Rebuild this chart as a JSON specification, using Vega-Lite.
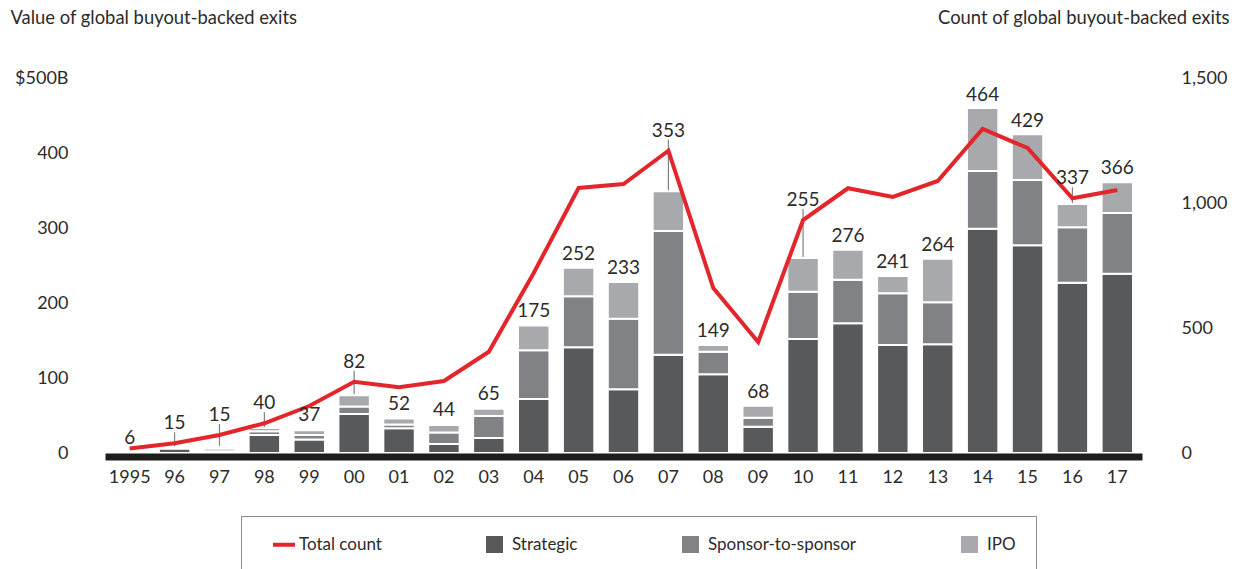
{
  "$schema": "https://vega.github.io/schema/vega-lite/v6.json",
  "width": 1037,
  "height": 375,
  "autosize": {"type": "none"},
  "padding": {"left": 105, "top": 78, "right": 97, "bottom": 116},
  "background": "white",
  "config": {"view": {"stroke": null}, "font": "Lato"},
  "datasets": {
    "segments": [
      {"year": "1995", "type": "Strategic", "value": 1}, {"year": "1995", "type": "Sponsor-to-sponsor", "value": 0.5}, {"year": "1995", "type": "IPO", "value": 0.5},
      {"year": "96", "type": "Strategic", "value": 6}, {"year": "96", "type": "Sponsor-to-sponsor", "value": 1}, {"year": "96", "type": "IPO", "value": 1},
      {"year": "97", "type": "Strategic", "value": 2.5}, {"year": "97", "type": "Sponsor-to-sponsor", "value": 3.5}, {"year": "97", "type": "IPO", "value": 2.5},
      {"year": "98", "type": "Strategic", "value": 24}, {"year": "98", "type": "Sponsor-to-sponsor", "value": 5}, {"year": "98", "type": "IPO", "value": 4.5},
      {"year": "99", "type": "Strategic", "value": 18}, {"year": "99", "type": "Sponsor-to-sponsor", "value": 6}, {"year": "99", "type": "IPO", "value": 6.5},
      {"year": "00", "type": "Strategic", "value": 52}, {"year": "00", "type": "Sponsor-to-sponsor", "value": 10}, {"year": "00", "type": "IPO", "value": 15},
      {"year": "01", "type": "Strategic", "value": 33}, {"year": "01", "type": "Sponsor-to-sponsor", "value": 5}, {"year": "01", "type": "IPO", "value": 8},
      {"year": "02", "type": "Strategic", "value": 12}, {"year": "02", "type": "Sponsor-to-sponsor", "value": 15.5}, {"year": "02", "type": "IPO", "value": 10},
      {"year": "03", "type": "Strategic", "value": 20}, {"year": "03", "type": "Sponsor-to-sponsor", "value": 29.5}, {"year": "03", "type": "IPO", "value": 9.5},
      {"year": "04", "type": "Strategic", "value": 72}, {"year": "04", "type": "Sponsor-to-sponsor", "value": 65}, {"year": "04", "type": "IPO", "value": 33},
      {"year": "05", "type": "Strategic", "value": 141}, {"year": "05", "type": "Sponsor-to-sponsor", "value": 68}, {"year": "05", "type": "IPO", "value": 38},
      {"year": "06", "type": "Strategic", "value": 85}, {"year": "06", "type": "Sponsor-to-sponsor", "value": 94}, {"year": "06", "type": "IPO", "value": 49},
      {"year": "07", "type": "Strategic", "value": 131}, {"year": "07", "type": "Sponsor-to-sponsor", "value": 165}, {"year": "07", "type": "IPO", "value": 53},
      {"year": "08", "type": "Strategic", "value": 105}, {"year": "08", "type": "Sponsor-to-sponsor", "value": 30}, {"year": "08", "type": "IPO", "value": 9},
      {"year": "09", "type": "Strategic", "value": 35}, {"year": "09", "type": "Sponsor-to-sponsor", "value": 12}, {"year": "09", "type": "IPO", "value": 16},
      {"year": "10", "type": "Strategic", "value": 152}, {"year": "10", "type": "Sponsor-to-sponsor", "value": 63}, {"year": "10", "type": "IPO", "value": 45},
      {"year": "11", "type": "Strategic", "value": 173}, {"year": "11", "type": "Sponsor-to-sponsor", "value": 58}, {"year": "11", "type": "IPO", "value": 40},
      {"year": "12", "type": "Strategic", "value": 144}, {"year": "12", "type": "Sponsor-to-sponsor", "value": 69}, {"year": "12", "type": "IPO", "value": 23},
      {"year": "13", "type": "Strategic", "value": 145}, {"year": "13", "type": "Sponsor-to-sponsor", "value": 56}, {"year": "13", "type": "IPO", "value": 58},
      {"year": "14", "type": "Strategic", "value": 299}, {"year": "14", "type": "Sponsor-to-sponsor", "value": 77}, {"year": "14", "type": "IPO", "value": 84},
      {"year": "15", "type": "Strategic", "value": 277}, {"year": "15", "type": "Sponsor-to-sponsor", "value": 87}, {"year": "15", "type": "IPO", "value": 61},
      {"year": "16", "type": "Strategic", "value": 227}, {"year": "16", "type": "Sponsor-to-sponsor", "value": 74}, {"year": "16", "type": "IPO", "value": 31},
      {"year": "17", "type": "Strategic", "value": 239}, {"year": "17", "type": "Sponsor-to-sponsor", "value": 81}, {"year": "17", "type": "IPO", "value": 41}
    ],
    "years": [
      {"year": "1995", "total": 6, "count": 18},
      {"year": "96", "total": 15, "count": 39},
      {"year": "97", "total": 15, "count": 72},
      {"year": "98", "total": 40, "count": 119},
      {"year": "99", "total": 37, "count": 188},
      {"year": "00", "total": 82, "count": 285},
      {"year": "01", "total": 52, "count": 263},
      {"year": "02", "total": 44, "count": 288},
      {"year": "03", "total": 65, "count": 405},
      {"year": "04", "total": 175, "count": 720},
      {"year": "05", "total": 252, "count": 1060},
      {"year": "06", "total": 233, "count": 1076},
      {"year": "07", "total": 353, "count": 1209},
      {"year": "08", "total": 149, "count": 660},
      {"year": "09", "total": 68, "count": 444},
      {"year": "10", "total": 255, "count": 932},
      {"year": "11", "total": 276, "count": 1059},
      {"year": "12", "total": 241, "count": 1024},
      {"year": "13", "total": 264, "count": 1088},
      {"year": "14", "total": 464, "count": 1296},
      {"year": "15", "total": 429, "count": 1220},
      {"year": "16", "total": 337, "count": 1019},
      {"year": "17", "total": 366, "count": 1052}
    ],
    "legend": [
      {"series": "Total count"},
      {"series": "Strategic"},
      {"series": "Sponsor-to-sponsor"},
      {"series": "IPO"}
    ]
  },
  "layer": [
    {
      "data": {"name": "years"},
      "transform": [{"filter": {"field": "year", "oneOf": ["96", "97", "98", "00", "07", "10", "16"]}}],
      "mark": {"type": "rule", "color": "#7f7f7f", "strokeWidth": 1.2, "yOffset": -11},
      "encoding": {
        "x": {
          "field": "year",
          "type": "nominal",
          "sort": null,
          "scale": {
            "domain": ["1995", "96", "97", "98", "99", "00", "01", "02", "03", "04", "05", "06", "07", "08", "09", "10", "11", "12", "13", "14", "15", "16", "17"],
            "paddingInner": 0.3,
            "paddingOuter": 0.2
          },
          "axis": {
            "title": null,
            "domainColor": "#1d1d1b",
            "domainWidth": 7,
            "offset": 3.5,
            "ticks": false,
            "labelPadding": 12,
            "labelFontSize": 18,
            "labelColor": "#2b2b2b",
            "labelAngle": 0,
            "zindex": 1
          }
        },
        "y": {"field": "count", "type": "quantitative", "scale": {"domain": [0, 1500], "nice": false}, "axis": null},
        "y2": {"datum": 0}
      }
    },
    {
      "data": {"name": "segments"},
      "mark": {"type": "bar", "stroke": "white", "strokeWidth": 2},
      "encoding": {
        "x": {"field": "year", "type": "nominal", "sort": null},
        "y": {
          "field": "value",
          "type": "quantitative",
          "stack": "zero",
          "scale": {"domain": [0, 500], "nice": false},
          "axis": {
            "orient": "left",
            "values": [0, 100, 200, 300, 400, 500],
            "labelExpr": "datum.value == 500 ? '$500B' : datum.label",
            "domain": false,
            "ticks": false,
            "grid": false,
            "labelPadding": 37,
            "labelFontSize": 18,
            "labelColor": "#2b2b2b",
            "title": "Value of global buyout-backed exits",
            "titleAngle": 0,
            "titleAlign": "left",
            "titleBaseline": "middle",
            "titleX": -95,
            "titleY": -61,
            "titleFontSize": 18.4,
            "titleFontWeight": "normal",
            "titleColor": "#2b2b2b"
          }
        },
        "fill": {
          "field": "type",
          "type": "nominal",
          "sort": ["Strategic", "Sponsor-to-sponsor", "IPO"],
          "scale": {
            "domain": ["Strategic", "Sponsor-to-sponsor", "IPO"],
            "range": ["#58595b", "#818285", "#a8a9ac"]
          },
          "legend": null
        }
      }
    },
    {
      "data": {"name": "years"},
      "mark": {"type": "line", "strokeWidth": 4, "color": "#e3262b"},
      "encoding": {
        "x": {"field": "year", "type": "nominal", "sort": null},
        "y": {
          "field": "count",
          "type": "quantitative",
          "scale": {"domain": [0, 1500], "nice": false},
          "axis": {
            "orient": "right",
            "values": [0, 500, 1000, 1500],
            "labelExpr": "format(datum.value, ',')",
            "domain": false,
            "ticks": false,
            "grid": false,
            "labelPadding": 39,
            "labelFontSize": 18,
            "labelColor": "#2b2b2b",
            "title": "Count of global buyout-backed exits",
            "titleAngle": 0,
            "titleAlign": "right",
            "titleBaseline": "middle",
            "titleX": 87,
            "titleY": -61,
            "titleFontSize": 18.4,
            "titleFontWeight": "normal",
            "titleColor": "#2b2b2b"
          }
        }
      }
    },
    {
      "data": {"name": "years"},
      "transform": [{"filter": {"not": {"field": "year", "oneOf": ["96", "97", "98", "00", "07", "10", "16"]}}}],
      "mark": {"type": "text", "baseline": "alphabetic", "dy": -4.5, "fontSize": 19, "color": "#2b2b2b"},
      "encoding": {
        "x": {"field": "year", "type": "nominal", "sort": null},
        "y": {"field": "total", "type": "quantitative", "scale": {"domain": [0, 500], "nice": false}, "axis": null},
        "text": {"field": "total", "type": "quantitative"}
      }
    },
    {
      "data": {"name": "years"},
      "transform": [{"filter": {"field": "year", "oneOf": ["96", "97", "98", "00", "07", "10", "16"]}}],
      "mark": {"type": "text", "baseline": "alphabetic", "dy": -14, "fontSize": 19, "color": "#2b2b2b"},
      "encoding": {
        "x": {"field": "year", "type": "nominal", "sort": null},
        "y": {"field": "count", "type": "quantitative", "scale": {"domain": [0, 1500], "nice": false}, "axis": null},
        "text": {"field": "total", "type": "quantitative"}
      }
    },
    {
      "data": {"name": "legend"},
      "mark": {"type": "point", "filled": true, "opacity": 0},
      "encoding": {
        "color": {
          "field": "series",
          "type": "nominal",
          "sort": null,
          "scale": {
            "domain": ["Total count", "Strategic", "Sponsor-to-sponsor", "IPO"],
            "range": ["#e3262b", "#58595b", "#818285", "#a8a9ac"]
          },
          "legend": {
            "orient": "none",
            "legendX": 136,
            "legendY": 438,
            "direction": "horizontal",
            "title": null,
            "strokeColor": "#8c8c8c",
            "padding": 20,
            "symbolOffset": 12,
            "labelFontSize": 17,
            "labelColor": "#2b2b2b",
            "labelOffset": 9,
            "columnPadding": 92,
            "symbolSize": 289,
            "symbolStrokeWidth": 0,
            "symbolOpacity": 1
          }
        },
        "shape": {
          "field": "series",
          "type": "nominal",
          "sort": null,
          "scale": {
            "domain": ["Total count", "Strategic", "Sponsor-to-sponsor", "IPO"],
            "range": ["M-1,-0.235H1.59V0.235H-1Z", "square", "square", "square"]
          },
          "legend": {
            "orient": "none",
            "legendX": 136,
            "legendY": 438,
            "direction": "horizontal",
            "title": null,
            "strokeColor": "#8c8c8c",
            "padding": 20,
            "symbolOffset": 12,
            "labelFontSize": 17,
            "labelColor": "#2b2b2b",
            "labelOffset": 9,
            "columnPadding": 92,
            "symbolSize": 289,
            "symbolStrokeWidth": 0,
            "symbolOpacity": 1
          }
        }
      }
    }
  ],
  "resolve": {"scale": {"y": "independent"}}
}
